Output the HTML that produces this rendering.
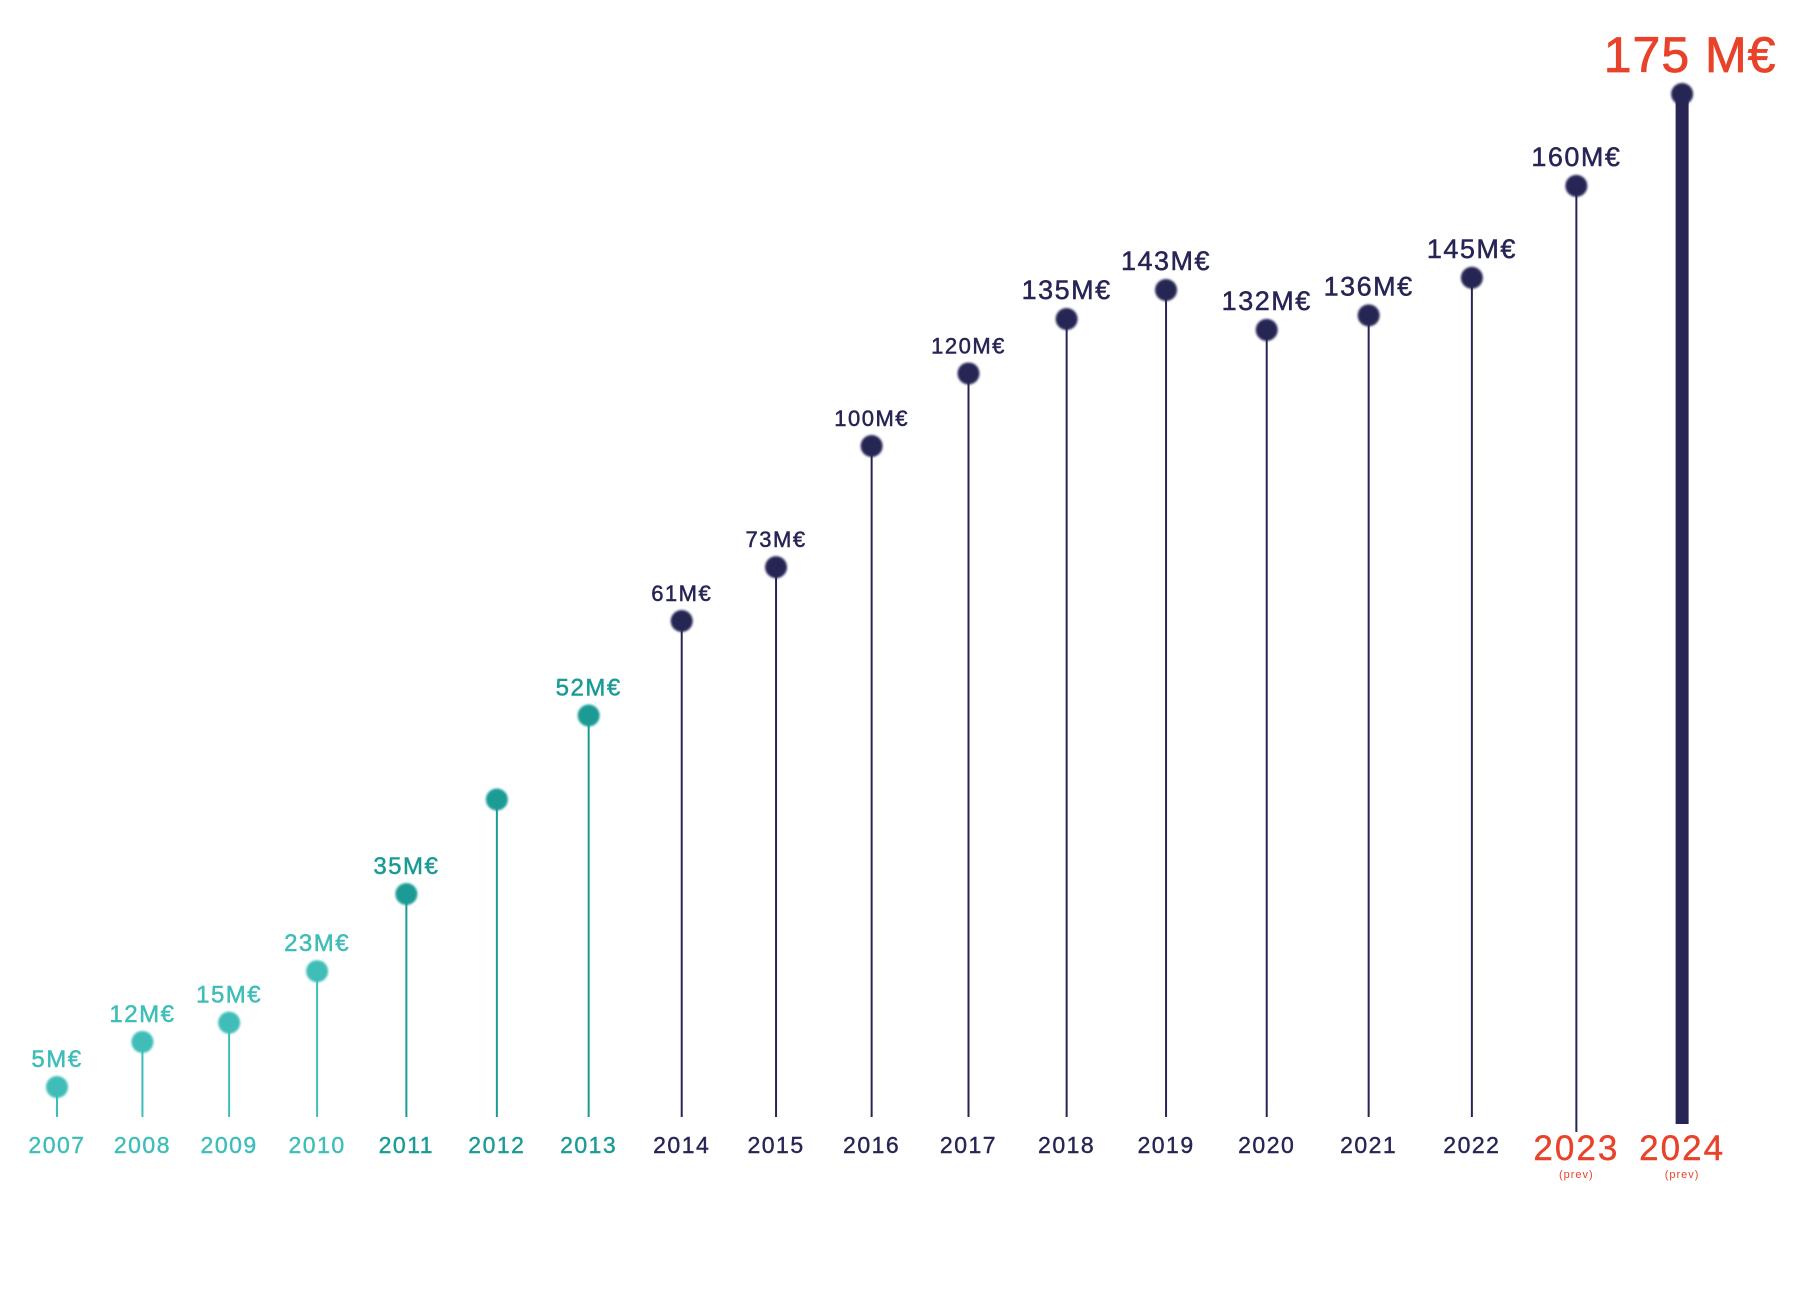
<!DOCTYPE html>
<html><head><meta charset="utf-8"><style>
html,body{margin:0;padding:0;background:#fff;}
svg{display:block;font-family:"Liberation Sans",sans-serif;}
</style></head><body>
<svg id="chart" width="1797" height="1295" viewBox="0 0 1797 1295" xmlns="http://www.w3.org/2000/svg">
<defs><filter id="soft" x="-50%" y="-50%" width="200%" height="200%"><feGaussianBlur stdDeviation="1.1"/></filter></defs>
<g id="stems"></g>
<g id="dots"></g>
<g id="vals"></g>
<g id="years"></g>
</svg>
<script>
const years = ["2007","2008","2009","2010","2011","2012","2013","2014","2015","2016","2017","2018","2019","2020","2021","2022","2023","2024"];
const values = [5,12,15,23,35,44,52,61,73,100,120,135,143,132,136,145,160,175];
const valueLabels = ["5M€","12M€","15M€","23M€","35M€","","52M€","61M€","73M€","100M€","120M€","135M€","143M€","132M€","136M€","145M€","160M€","175 M€"];
const forecast = [false,false,false,false,false,false,false,false,false,false,false,false,false,false,false,false,true,true];

const NS="http://www.w3.org/2000/svg";
// piecewise-linear (polylinear) value axis, like d3.scaleLinear with multiple stops
const yDomainStops=[5,35,61,100,143,175];
const yRangeStops=[1087,894,621,446,290,94];
function yScale(v){
  const d=yDomainStops,r=yRangeStops;
  let k=0;
  while(k<d.length-2 && v>d[k+1]) k++;
  return r[k]+(v-d[k])*(r[k+1]-r[k])/(d[k+1]-d[k]);
}
function xScale(i){return 57+84.8*i+0.635*i*i;}
function color(i){
  if(i<=3) return "#3fbdb8";
  if(i<=6) return "#1b9b95";
  return "#272555";
}
const stems=document.getElementById('stems'),dots=document.getElementById('dots'),vals=document.getElementById('vals'),yrs=document.getElementById('years');
function mk(tag,attrs,parent){const e=document.createElementNS(NS,tag);for(const k in attrs)e.setAttribute(k,attrs[k]);parent.appendChild(e);return e;}
const baseY=1117;
years.forEach((yr,i)=>{
  const x=xScale(i), y=yScale(values[i]), c=color(i);
  const last=i===years.length-1;
  const st=mk('line',{x1:x,x2:x,y1:y,y2:last?1124:(i===16?1132:baseY),stroke:c,'stroke-width':last?13:2},stems);
  
  
  const d=mk('circle',{cx:x,cy:y,r:11,fill:c,filter:'url(#soft)'},dots);
  
  
  if(valueLabels[i]){
    const big=last, fs=big?50:(i>=11?27:(i>=7?22:24));
    const t=mk('text',{x:last?x+8:x,y:y-(big?22:20),'text-anchor':'middle','font-size':fs,fill:big?"#e8432a":c,stroke:big?"#e8432a":c,'stroke-width':big?0.8:0.5,'letter-spacing':big?1:1.5},vals);
    t.textContent=valueLabels[i];
    
    
  }
  const yc=forecast[i]?"#e8432a":c;
  const t2=mk('text',{x:x,y:forecast[i]?1160:1153,'text-anchor':'middle','font-size':forecast[i]?35:23,fill:yc,stroke:yc,'stroke-width':0.4,'letter-spacing':forecast[i]?2:1.5},yrs);
  t2.textContent=yr;
  
  
  if(forecast[i]){
    const p=mk('text',{x:x,y:1178,'text-anchor':'middle','font-size':11,fill:yc,'letter-spacing':1},yrs);
    p.textContent="(prev)";
    
    
  }
});
</script>
</body></html>
